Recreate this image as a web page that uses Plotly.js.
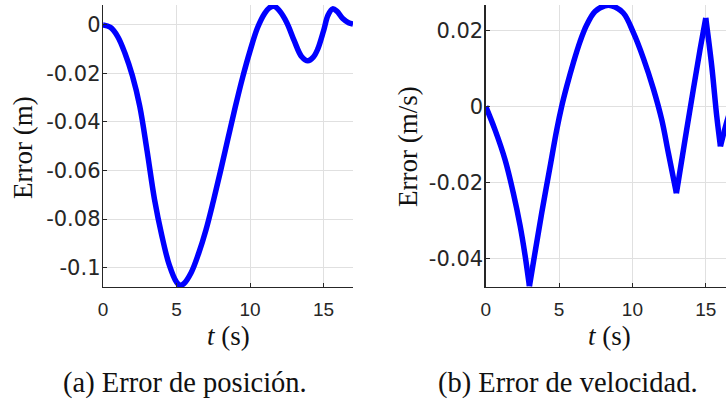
<!DOCTYPE html>
<html>
<head>
<meta charset="utf-8">
<script src="https://cdn.plot.ly/plotly-3.0.1.min.js"></script>
<style>html,body{margin:0;padding:0;background:#fff;}#chart{width:726px;height:408px;}</style>
</head>
<body>
<div id="chart"></div>
<script>
// Position error (a)
const posT = [0, 0.5, 1.0, 1.5, 2.0, 2.5, 3.0, 3.5, 4.0, 4.5, 5.0, 5.25, 5.5, 6.0, 6.5, 7.0, 7.5, 8.0, 8.5, 9.0, 9.5, 10.0, 10.5, 11.0, 11.3, 11.65, 12.0, 12.5, 13.0, 13.5, 13.93, 14.3, 14.6, 15.0, 15.3, 15.62, 15.9, 16.3, 16.7, 17.0];
const posErr = [0, -0.0010, -0.0048, -0.0118, -0.0210, -0.0335, -0.0520, -0.0718, -0.0868, -0.0988, -0.1060, -0.1073, -0.1066, -0.1020, -0.0942, -0.0845, -0.0727, -0.0600, -0.0468, -0.0337, -0.0215, -0.0107, -0.0013, 0.0048, 0.0070, 0.0077, 0.0058, 0.0009, -0.0065, -0.0130, -0.0148, -0.0133, -0.0100, -0.0024, 0.0040, 0.0066, 0.0057, 0.0026, 0.0009, 0.0003];

// Velocity error (b)
const velT = [0, 0.63, 1.32, 1.88, 2.34, 2.68, 2.98, 3.36, 3.82, 4.38, 4.84, 5.18, 5.52, 5.97, 6.43, 6.89, 7.45, 8.13, 8.59, 9.38, 10.06, 10.75, 11.43, 12.0, 12.45, 13.0, 13.59, 14.15, 14.61, 15.0, 15.41, 15.75, 16.0, 16.38, 16.6];
const velErr = [0, -0.0061, -0.014, -0.0227, -0.0312, -0.0390, -0.0472, -0.0384, -0.0279, -0.0160, -0.0062, 0, 0.0052, 0.0114, 0.0170, 0.0214, 0.0249, 0.0264, 0.0264, 0.0245, 0.0194, 0.0126, 0.0046, -0.0035, -0.0122, -0.0228, -0.0087, 0.0044, 0.0149, 0.0232, 0.0105, -0.0026, -0.0105, -0.0048, -0.0020];
// times where the velocity error has a sharp corner
const velCornerT = [2.98, 13.0, 15.0, 16.0];

const xTickVals = [0, 5, 10, 15];
const xTickText = ['0', '5', '10', '15'];
const posTickVals = [-0.1, -0.08, -0.06, -0.04, -0.02, 0];
const posTickText = ['-0.1', '-0.08', '-0.06', '-0.04', '-0.02', '0'];
const velTickVals = [-0.04, -0.02, 0, 0.02];
const velTickText = ['-0.04', '-0.02', '0', '0.02'];

const W = 726, H = 408;
const px = v => v / W;
const py = v => 1 - v / H;

const lineStyle = {color: '#0000ff', width: 5.5, shape: 'spline', smoothing: 1};
const traces = [
  {x: posT, y: posErr, xaxis: 'x', yaxis: 'y', mode: 'lines', line: lineStyle, hoverinfo: 'skip', showlegend: false}
];
// split velocity at its corners so each smooth arc is a spline and corners stay sharp
let segX = [], segY = [];
for (let i = 0; i < velT.length; i++) {
  segX.push(velT[i]); segY.push(velErr[i]);
  if (velCornerT.includes(velT[i]) || i === velT.length - 1) {
    traces.push({x: segX, y: segY, xaxis: 'x2', yaxis: 'y2', mode: 'lines', line: lineStyle, hoverinfo: 'skip', showlegend: false});
    segX = [velT[i]]; segY = [velErr[i]];
  }
}

const tickFontX = {family: 'Liberation Sans, Arial, sans-serif', size: 19, color: '#262626'};
const tickFontY = {family: 'DejaVu Sans, sans-serif', size: 21, color: '#262626'};
const axisCommon = {
  showgrid: true, gridcolor: '#e0e0e0', gridwidth: 1,
  showline: true, linecolor: '#262626', linewidth: 1.3,
  ticks: 'inside', ticklen: 4, tickcolor: '#262626', tickwidth: 1,
  zeroline: false, mirror: false, fixedrange: true
};

const titleFont = {family: 'Liberation Serif, Times New Roman, serif', size: 27, color: '#111'};
const capFont = {family: 'Liberation Serif, Times New Roman, serif', size: 28.5, color: '#111'};

const layout = {
  width: W, height: H,
  margin: {l: 0, r: 0, t: 0, b: 0, pad: 0},
  paper_bgcolor: '#ffffff', plot_bgcolor: '#ffffff',
  showlegend: false,
  xaxis: Object.assign({}, axisCommon, {domain: [px(103), px(353)], range: [0, 17], tickvals: xTickVals, ticktext: xTickText, tickfont: tickFontX, anchor: 'y', ticklabelstandoff: 5}),
  yaxis: Object.assign({}, axisCommon, {domain: [py(287), py(5)], range: [-0.108, 0.0082], tickvals: posTickVals, ticktext: posTickText, tickfont: tickFontY, anchor: 'x', ticklabelstandoff: -3}),
  xaxis2: Object.assign({}, axisCommon, {domain: [px(485.7), 1], range: [0, 16.38], tickvals: xTickVals, ticktext: xTickText, tickfont: tickFontX, anchor: 'y2', ticklabelstandoff: 5}),
  yaxis2: Object.assign({}, axisCommon, {domain: [py(287), py(5)], range: [-0.0474, 0.0266], tickvals: velTickVals, ticktext: velTickText, tickfont: tickFontY, anchor: 'x2', ticklabelstandoff: -3}),
  annotations: [
    {text: 'Error (m)', x: px(23), y: py(148), xref: 'paper', yref: 'paper', xanchor: 'center', yanchor: 'middle', textangle: -90, showarrow: false, font: titleFont},
    {text: 'Error (m/s)', x: px(408), y: py(147), xref: 'paper', yref: 'paper', xanchor: 'center', yanchor: 'middle', textangle: -90, showarrow: false, font: titleFont},
    {text: '<i>t</i> (s)', x: px(228), y: py(336), xref: 'paper', yref: 'paper', xanchor: 'center', yanchor: 'middle', showarrow: false, font: titleFont},
    {text: '<i>t</i> (s)', x: px(609), y: py(336), xref: 'paper', yref: 'paper', xanchor: 'center', yanchor: 'middle', showarrow: false, font: titleFont},
    {text: '(a) Error de posición.', x: px(184.5), y: py(383), xref: 'paper', yref: 'paper', xanchor: 'center', yanchor: 'middle', showarrow: false, font: capFont},
    {text: '(b) Error de velocidad.', x: px(567.5), y: py(383), xref: 'paper', yref: 'paper', xanchor: 'center', yanchor: 'middle', showarrow: false, font: capFont}
  ]
};

Plotly.newPlot('chart', traces, layout, {staticPlot: true, displayModeBar: false});
</script>
</body>
</html>
